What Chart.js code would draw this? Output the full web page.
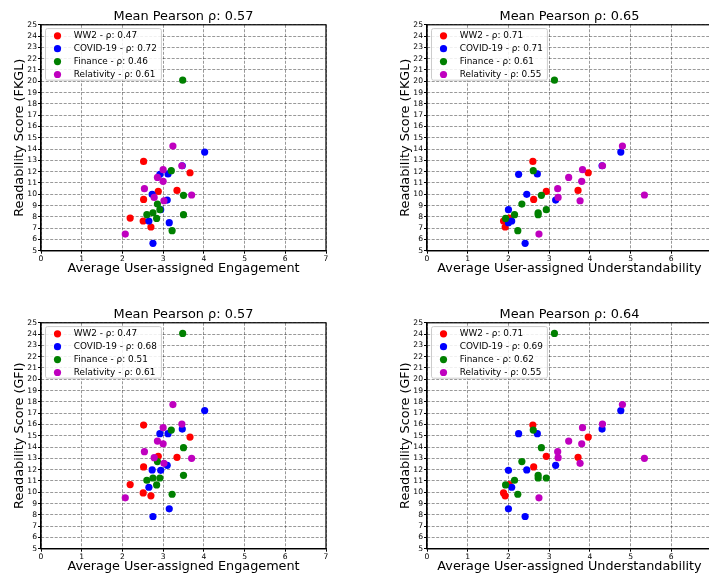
<!DOCTYPE html>
<html>
<head>
<meta charset="utf-8">
<title>Readability vs user ratings</title>
<script src="https://cdn.jsdelivr.net/npm/chart.js@4.4.0/dist/chart.umd.min.js"></script>
<style>
    html, body { margin: 0; padding: 0; width: 709px; height: 573px; overflow: hidden; background: #fff; }
    canvas { position: absolute; }
</style>
</head>
<body>
<canvas id="chart-eng-fkgl" width="340" height="290" style="left:0;top:0"></canvas>
<canvas id="chart-und-fkgl" width="340" height="290" style="left:386px;top:0"></canvas>
<canvas id="chart-eng-gfi" width="340" height="290" style="left:0;top:298px"></canvas>
<canvas id="chart-und-gfi" width="340" height="290" style="left:386px;top:298px"></canvas>
<script>
// topics, in legend order
const topics = ['WW2', 'COVID-19', 'Finance', 'Relativity'];
const colors = ['#ff0000', '#0000ff', '#008000', '#bf00bf'];

// average user-assigned engagement, per topic
const engWW2 = [2.52, 3.66, 2.88, 3.34, 2.52, 2.19, 2.51, 2.70];
const engCovid = [4.02, 3.47, 2.92, 3.12, 2.73, 3.10, 2.94, 2.65, 3.15, 2.75];
const engFinance = [3.48, 3.20, 3.50, 2.86, 2.92, 2.75, 2.60, 3.50, 2.84, 3.22];
const engRelativity = [3.24, 3.46, 3.00, 2.86, 3.00, 2.54, 3.70, 2.78, 3.02, 2.07];

// average user-assigned understandability, per topic
const undWW2 = [2.60, 3.96, 2.93, 3.71, 2.62, 2.02, 1.88, 1.92];
const undCovid = [4.76, 4.30, 2.25, 2.71, 2.45, 3.16, 2.00, 2.08, 2.00, 2.41];
const undFinance = [3.13, 2.61, 2.81, 2.33, 2.93, 2.73, 2.15, 2.73, 1.93, 2.23];
const undRelativity = [4.80, 4.31, 3.82, 3.48, 3.80, 3.21, 5.34, 3.22, 3.76, 2.75];

// FKGL readability scores
const fkglWW2 = [12.9, 11.9, 10.25, 10.34, 9.54, 7.89, 7.63, 7.1];
const fkglCovid = [13.73, 12.52, 11.76, 11.8, 9.99, 9.48, 8.63, 7.63, 7.48, 5.65];
const fkglFinance = [20.1, 12.08, 9.9, 9.13, 8.63, 8.36, 8.19, 8.19, 7.86, 6.77];
const fkglRelativity = [14.26, 12.52, 12.17, 11.49, 11.14, 10.49, 9.93, 9.72, 9.42, 6.47];

// GFI readability scores
const gfiWW2 = [15.94, 14.88, 13.18, 13.09, 12.24, 10.68, 9.94, 9.68];
const gfiCovid = [17.23, 15.59, 15.18, 15.18, 11.97, 12.38, 11.94, 10.44, 8.53, 7.85];
const gfiFinance = [24.06, 15.5, 13.94, 12.71, 11.26, 11.26, 11.06, 11.5, 10.65, 9.82];
const gfiRelativity = [17.76, 16.03, 15.71, 14.53, 14.29, 13.59, 13.0, 13.06, 12.56, 9.5];

// pearson rho per topic and the mean, per panel
const rhoEngFkgl = ['0.47', '0.72', '0.46', '0.61'];
const rhoUndFkgl = ['0.71', '0.71', '0.61', '0.55'];
const rhoEngGfi = ['0.47', '0.68', '0.51', '0.61'];
const rhoUndGfi = ['0.71', '0.69', '0.62', '0.55'];
const meanRho = ['0.57', '0.65', '0.57', '0.64'];

const FONT = '"DejaVu Sans", sans-serif';

// matplotlib draws all four spines
const framePlugin = {
    id: 'frame',
    afterDraw(chart) {
        const { ctx, chartArea: a } = chart;
        ctx.save();
        ctx.strokeStyle = '#000';
        ctx.lineWidth = 1.2;
        ctx.strokeRect(a.left, a.top, a.right - a.left, a.bottom - a.top);
        ctx.restore();
    }
};

// legend box in the upper left corner of the plot area
const insideLegend = {
    id: 'insideLegend',
    afterDraw(chart) {
        const { ctx, chartArea: a } = chart;
        const sets = chart.data.datasets;
        ctx.save();
        ctx.font = '8.9px ' + FONT;
        const textW = Math.max(...sets.map(d => ctx.measureText(d.label).width));
        const rowH = 12.9;
        const x0 = a.left + 4.5, y0 = a.top + 3.8;
        const w = 28.3 + textW + 4.5, h = 7.2 + rowH * (sets.length - 1) + 5.7;
        ctx.beginPath();
        ctx.roundRect(x0, y0, w, h, 2);
        ctx.fillStyle = 'rgba(255,255,255,0.85)';
        ctx.fill();
        ctx.strokeStyle = '#cccccc';
        ctx.lineWidth = 1;
        ctx.stroke();
        sets.forEach((d, i) => {
            const cy = y0 + 7.2 + i * rowH;
            ctx.beginPath();
            ctx.arc(x0 + 12, cy, 3.6, 0, Math.PI * 2);
            ctx.fillStyle = d.backgroundColor;
            ctx.fill();
            ctx.fillStyle = '#000';
            ctx.textBaseline = 'middle';
            ctx.fillText(d.label, x0 + 28.3, cy);
        });
        ctx.restore();
    }
};

function makeChart(id, xSets, ySets, xLabel, yLabel, rhos, mean) {
    const datasets = topics.map((t, i) => ({
        label: `${t} - ρ: ${rhos[i]}`,
        data: xSets[i].map((x, j) => ({ x, y: ySets[i][j] })),
        backgroundColor: colors[i],
        borderWidth: 0,
        pointRadius: 3.6,
        order: topics.length - i   // later topics drawn on top, like matplotlib
    }));

    const tickFont = { size: 7.6, family: FONT };
    const gridOpts = { color: 'rgba(0,0,0,0.5)', lineWidth: 0.8, tickColor: '#000', tickLength: 3, tickWidth: 1 };

    return new Chart(document.getElementById(id), {
        type: 'scatter',
        data: { datasets },
        options: {
            responsive: false,
            animation: false,
            devicePixelRatio: 1,
            layout: { padding: { left: 0, right: 14, top: 0, bottom: 0 } },
            plugins: {
                legend: { display: false },
                tooltip: { enabled: false },
                title: {
                    display: true,
                    text: `Mean Pearson ρ: ${mean}`,
                    color: '#000',
                    fullSize: false,
                    font: { size: 12.9, family: FONT, weight: 'normal' },
                    padding: { top: 9, bottom: 0.3 }
                }
            },
            scales: {
                x: {
                    type: 'linear', min: 0, max: 7,
                    ticks: { stepSize: 1, color: '#000', font: tickFont, padding: 1 },
                    grid: gridOpts,
                    border: { dash: [3, 1.5], color: '#000', width: 1.2 },
                    title: { display: true, text: xLabel, color: '#000', font: { size: 12.8, family: FONT }, padding: { top: 0, bottom: 13.2 } },
                    afterFit: s => { s.height = 39.3; }
                },
                y: {
                    min: 5, max: 25,
                    ticks: { stepSize: 1, autoSkip: false, color: '#000', font: tickFont, padding: 1 },
                    grid: gridOpts,
                    border: { dash: [3, 1.5], color: '#000', width: 1.2 },
                    title: { display: true, text: yLabel, color: '#000', font: { size: 12.8, family: FONT }, padding: { top: 12.2, bottom: 0 } },
                    afterFit: s => { s.width = 41; }
                }
            }
        },
        plugins: [framePlugin, insideLegend]
    });
}

document.addEventListener('DOMContentLoaded', () => {
    const eng = [engWW2, engCovid, engFinance, engRelativity];
    const und = [undWW2, undCovid, undFinance, undRelativity];
    const fkgl = [fkglWW2, fkglCovid, fkglFinance, fkglRelativity];
    const gfi = [gfiWW2, gfiCovid, gfiFinance, gfiRelativity];

    makeChart('chart-eng-fkgl', eng, fkgl, 'Average User-assigned Engagement', 'Readability Score (FKGL)', rhoEngFkgl, meanRho[0]);
    makeChart('chart-und-fkgl', und, fkgl, 'Average User-assigned Understandability', 'Readability Score (FKGL)', rhoUndFkgl, meanRho[1]);
    makeChart('chart-eng-gfi', eng, gfi, 'Average User-assigned Engagement', 'Readability Score (GFI)', rhoEngGfi, meanRho[2]);
    makeChart('chart-und-gfi', und, gfi, 'Average User-assigned Understandability', 'Readability Score (GFI)', rhoUndGfi, meanRho[3]);
});
</script>
</body>
</html>
